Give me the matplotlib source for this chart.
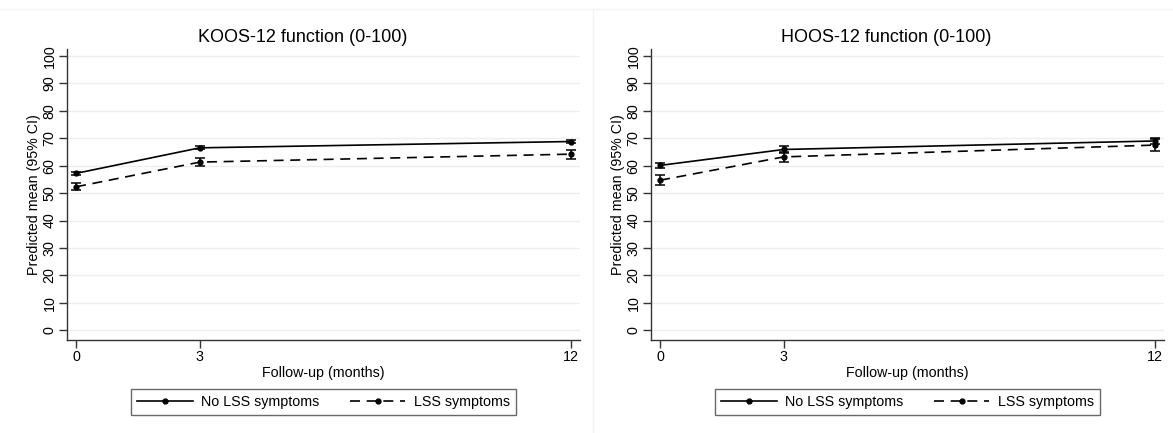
import matplotlib
matplotlib.use("Agg")
import matplotlib.pyplot as plt
from matplotlib.lines import Line2D

plt.rcParams['font.family'] = ['Liberation Sans', 'DejaVu Sans']

# follow-up times (months)
months = [0, 3, 12]

# KOOS-12 function, predicted means and 95% CI half-widths
koos_no = [57.2, 66.5, 68.8]
koos_no_ci = [0.5, 0.6, 0.6]
koos_lss = [52.3, 61.3, 64.2]
koos_lss_ci = [1.3, 1.6, 1.6]

# HOOS-12 function
hoos_no = [60.1, 65.9, 69.0]
hoos_no_ci = [0.9, 1.2, 1.1]
hoos_lss = [54.7, 63.2, 67.5]
hoos_lss_ci = [1.9, 1.8, 2.1]

titles = ['KOOS-12 function (0-100)', 'HOOS-12 function (0-100)']
series = [(koos_no, koos_no_ci, koos_lss, koos_lss_ci),
          (hoos_no, hoos_no_ci, hoos_lss, hoos_lss_ci)]
labels = ['No LSS symptoms', 'LSS symptoms']
yticks = list(range(0, 101, 10))

W, H = 1173, 433
fig = plt.figure(figsize=(W / 100, H / 100), dpi=100)

# axes boxes in pixels: left, right, top, bottom
boxes = [(67, 580, 49, 340), (651, 1164, 49, 340)]
axes = []
for (l, r, t, b) in boxes:
    ax = fig.add_axes([l / W, (H - b) / H, (r - l) / W, (b - t) / H])
    axes.append(ax)

dash = (0, (6, 4))
for ax, title, (no, no_ci, lss, lss_ci) in zip(axes, titles, series):
    ax.errorbar(months, no, yerr=no_ci, color='black', lw=1.2, marker='o',
                ms=3.5, capsize=3.5, elinewidth=1.1, capthick=1.1, zorder=3)
    ax.errorbar(months, lss, yerr=lss_ci, color='black', lw=1.2, marker='o',
                ms=3.5, capsize=3.5, elinewidth=1.1, capthick=1.1, zorder=3,
                linestyle=dash)
    ax.set_xlim(-0.22, 12.22)
    ax.set_ylim(-3.5, 102.5)
    ax.set_xticks(months)
    ax.set_yticks(yticks)
    ax.set_yticklabels([str(v) for v in yticks], rotation=90, va='center')
    ax.grid(axis='y', color='#e8f0f2', lw=1.0)
    ax.set_axisbelow(True)
    for s in ['top', 'right']:
        ax.spines[s].set_visible(False)
    for s in ['left', 'bottom']:
        ax.spines[s].set_color('#333333')
        ax.spines[s].set_linewidth(1.0)
    ax.tick_params(direction='out', length=5.5, width=1.0, color='#333333',
                   labelsize=10.3, pad=2)
    t = ax.set_title(title, fontsize=13, pad=5)
    t.set_x(0.5 - 21 / 513)
    ax.set_xlabel('Follow-up (months)', fontsize=10.3, labelpad=1)
    ax.set_ylabel('Predicted mean (95% CI)', fontsize=10.3, labelpad=1)

    handles = [Line2D([], [], color='black', lw=1.2, marker='o', ms=3.5,
                      markevery=[1], linestyle='-'),
               Line2D([], [], color='black', lw=1.2, marker='o', ms=3.5,
                      markevery=[1], linestyle=dash)]
    leg = ax.legend(handles, labels, ncol=2, loc='center',
                    bbox_to_anchor=(0.5, -0.213), fontsize=10.3,
                    frameon=True, fancybox=False, handlelength=3.9,
                    columnspacing=2.1, handletextpad=0.6,
                    borderpad=0.45)
    leg.get_frame().set_edgecolor('#444444')
    leg.get_frame().set_linewidth(1.0)

# faint panel borders
fig.add_artist(Line2D([0, 1], [(H - 9) / H] * 2, color='#f0f4f4', lw=1))
fig.add_artist(Line2D([593 / W] * 2, [0, (H - 9) / H], color='#f0f4f4', lw=1))

fig.savefig('out.png', dpi=100, facecolor='white')
